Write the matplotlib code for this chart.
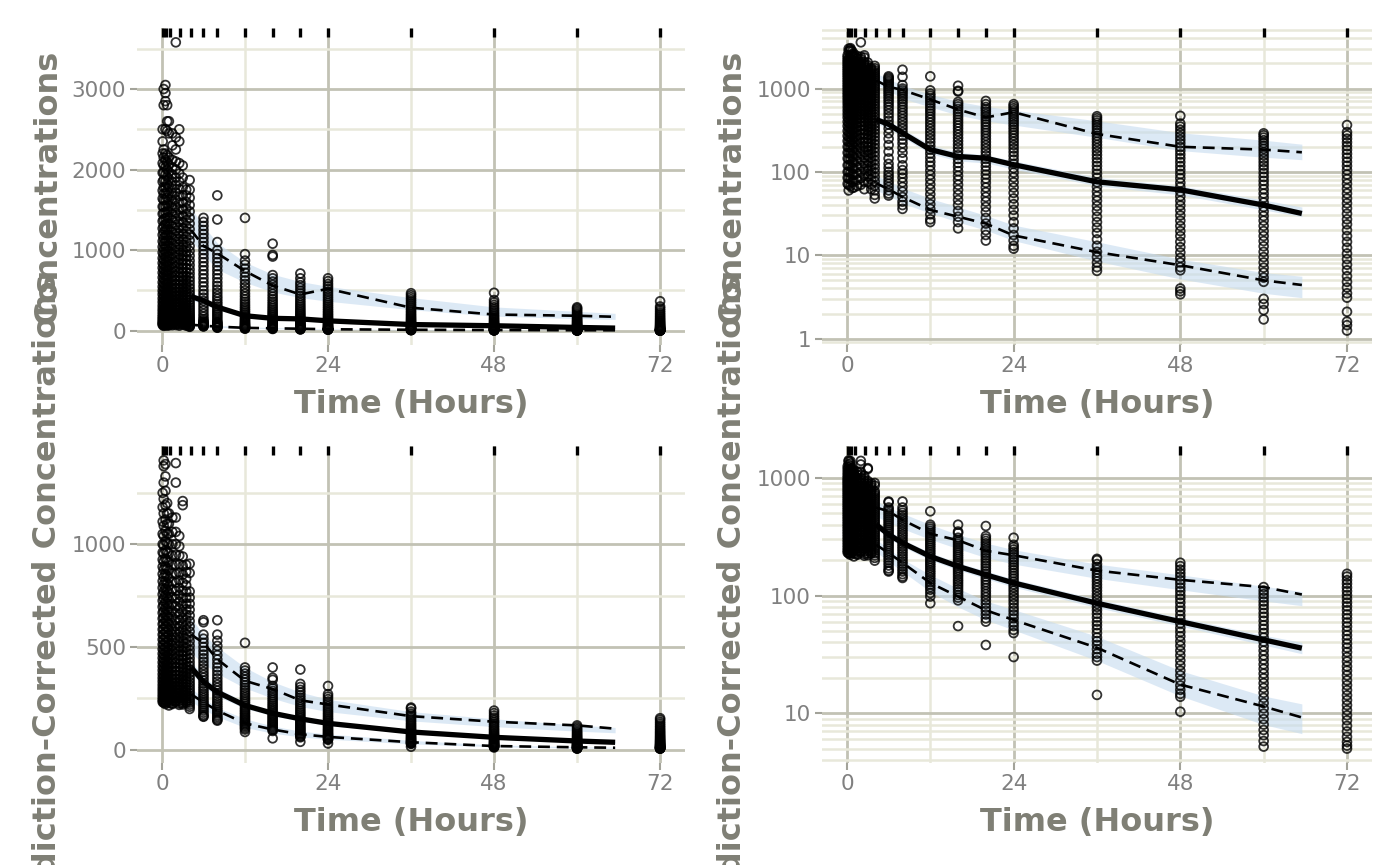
import matplotlib
matplotlib.use("Agg")
import matplotlib.pyplot as plt
from matplotlib.ticker import FixedLocator, FixedFormatter, LogLocator, NullFormatter
import numpy as np

# --- x axis / binning -------------------------------------------------------
time_ticks = [0, 24, 48, 72]
time_minor = [12, 36, 60]
rug_times = [0.2, 0.6, 1.1, 2.6, 4.2, 6, 8, 12, 16, 20, 24, 36, 48, 60, 72]
bin_mid = [4.2, 6, 8, 12, 16, 20, 24, 36, 48, 60, 65.5]

# --- observed concentrations (one list per sampling time) -------------------
obs_times = [0.1, 0.25, 0.5, 0.75, 1.0, 1.5, 2.0, 2.5, 3.0, 3.5,
             4, 6, 8, 12, 16, 20, 24, 36, 48, 60, 72]
obs_conc = [
    [2500, 2350, 2200, 2080, 1960, 1850, 1740, 1640, 1540, 1450, 1360, 1270, 1190, 1110, 1040, 970, 900, 840, 780, 720, 660, 600, 545, 495, 450, 400, 355, 310, 270, 235, 200, 170, 145, 120, 100, 85, 72],
    [3000, 2800, 2250, 2150, 2050, 1960, 1870, 1780, 1700, 1620, 1540, 1460, 1380, 1300, 1225, 1150, 1080, 1010, 945, 880, 815, 755, 695, 640, 585, 530, 480, 430, 385, 340, 300, 262, 228, 196, 168, 142, 120, 100, 84, 70, 60],
    [3050, 2950, 2850, 2500, 2200, 2120, 2030, 1940, 1860, 1780, 1700, 1620, 1545, 1470, 1395, 1320, 1250, 1180, 1110, 1045, 980, 915, 855, 795, 735, 680, 625, 570, 520, 470, 425, 380, 338, 298, 262, 228, 197, 168, 142, 118, 98, 82, 68],
    [2800, 2600, 2480, 2180, 2090, 2000, 1910, 1820, 1735, 1650, 1570, 1490, 1410, 1335, 1260, 1190, 1120, 1050, 985, 920, 860, 800, 742, 686, 632, 580, 530, 482, 436, 392, 350, 312, 276, 242, 210, 181, 155, 131, 110, 92, 76, 64],
    [2600, 2450, 2150, 2060, 1970, 1880, 1795, 1710, 1630, 1550, 1475, 1400, 1325, 1255, 1185, 1115, 1050, 985, 922, 862, 804, 748, 694, 642, 592, 544, 498, 454, 412, 372, 334, 298, 264, 232, 203, 176, 151, 129, 109, 92, 77, 65],
    [2450, 2300, 2120, 2030, 1940, 1850, 1765, 1680, 1600, 1520, 1445, 1370, 1295, 1225, 1155, 1088, 1022, 958, 896, 836, 778, 722, 668, 616, 566, 518, 472, 428, 386, 347, 310, 275, 242, 212, 184, 158, 135, 114, 96, 80, 68],
    [3580, 2400, 2250, 2100, 2000, 1900, 1805, 1715, 1628, 1545, 1465, 1388, 1313, 1240, 1170, 1102, 1036, 972, 910, 850, 792, 736, 682, 630, 580, 532, 486, 442, 400, 360, 322, 286, 252, 221, 192, 165, 141, 119, 100, 84, 70],
    [2500, 2350, 2080, 1950, 1850, 1760, 1672, 1588, 1506, 1428, 1352, 1278, 1207, 1138, 1072, 1008, 946, 886, 828, 772, 718, 666, 616, 568, 522, 478, 436, 396, 358, 322, 288, 256, 226, 198, 172, 148, 127, 108, 91, 76, 62],
    [2050, 1900, 1780, 1680, 1590, 1505, 1424, 1346, 1272, 1200, 1131, 1065, 1001, 940, 881, 825, 771, 719, 669, 621, 575, 531, 489, 449, 411, 375, 341, 309, 279, 251, 225, 200, 177, 156, 137, 119, 103, 88, 75],
    [1750, 1680, 1600, 1520, 1445, 1372, 1302, 1234, 1168, 1105, 1044, 985, 929, 875, 823, 773, 725, 679, 635, 593, 553, 515, 479, 444, 411, 380, 350, 322, 295, 270, 246, 224, 203, 183, 165, 148, 132, 117, 104, 92, 81, 71, 62],
    [1870, 1750, 1650, 1560, 1480, 1400, 1330, 1260, 1190, 1120, 1050, 990, 930, 870, 815, 760, 710, 660, 615, 570, 528, 488, 450, 414, 380, 348, 318, 290, 263, 238, 215, 193, 173, 155, 138, 123, 110, 98, 87, 77, 68, 60, 53, 48],
    [1400, 1350, 1300, 1250, 1200, 1150, 1100, 1050, 1000, 950, 900, 850, 800, 750, 700, 650, 600, 550, 500, 455, 410, 370, 330, 290, 250, 210, 175, 145, 125, 112, 100, 92, 85, 78, 72, 66, 60, 55, 52],
    [1680, 1380, 1100, 1000, 950, 900, 850, 800, 750, 700, 650, 600, 555, 510, 470, 430, 395, 360, 330, 300, 272, 245, 220, 195, 170, 145, 120, 105, 95, 85, 75, 66, 58, 50, 44, 40, 36],
    [1400, 950, 870, 820, 770, 720, 670, 625, 580, 540, 500, 460, 425, 390, 358, 328, 300, 274, 250, 227, 205, 185, 166, 148, 132, 118, 104, 92, 81, 71, 62, 54, 47, 41, 36, 31, 27, 25],
    [1080, 940, 920, 690, 650, 610, 570, 530, 492, 456, 422, 390, 360, 332, 305, 280, 256, 234, 213, 194, 176, 159, 143, 128, 115, 102, 90, 80, 70, 61, 53, 46, 40, 34, 29, 25, 21],
    [710, 650, 600, 565, 530, 495, 462, 430, 400, 371, 344, 318, 294, 271, 249, 228, 209, 191, 174, 158, 143, 129, 116, 104, 93, 83, 74, 65, 57, 50, 44, 38, 33, 28, 24, 20, 17.5, 15],
    [650, 615, 580, 548, 516, 485, 455, 426, 398, 371, 345, 320, 296, 273, 251, 230, 210, 191, 173, 156, 140, 125, 111, 98, 86, 75, 65, 56, 48, 41, 35, 30, 25, 21, 17.5, 15, 13, 12],
    [465, 440, 415, 390, 365, 340, 316, 293, 271, 250, 230, 211, 193, 176, 160, 145, 131, 118, 106, 95, 85, 75, 66, 58, 51, 45, 39, 34, 29, 25, 21.5, 18.5, 15.5, 13, 11, 9.5, 8.2, 7.2, 6.5],
    [470, 380, 350, 320, 292, 266, 242, 220, 199, 180, 162, 146, 131, 117, 105, 94, 84, 74, 66, 58, 51, 45, 39.5, 34.5, 30, 26, 22.5, 19.5, 17, 14.5, 12.5, 10.8, 9.3, 8.2, 7.2, 6.6, 4.0, 3.7, 3.4],
    [290, 275, 258, 240, 222, 205, 189, 173, 158, 144, 131, 119, 108, 97, 87, 78, 70, 62, 55, 49, 43, 38, 33.5, 29.5, 26, 22.5, 19.5, 17, 14.8, 12.8, 11, 9.5, 8.2, 7.1, 6.2, 5.4, 4.8, 3.0, 2.6, 2.2, 1.7],
    [365, 300, 275, 250, 226, 204, 184, 165, 148, 132, 118, 105, 93, 82, 72, 63, 55, 48, 42, 36.5, 31.5, 27, 23.5, 20, 17, 14.5, 12.3, 10.5, 9, 7.7, 6.6, 5.6, 4.8, 4.1, 3.5, 3.1, 2.1, 1.6, 1.45, 1.25],
]

# observed percentiles per bin
obs_p05 = [73, 62, 50, 35, 29, 24, 17.3, 10.9, 7.6, 5.0, 4.4]
obs_p50 = [425, 372, 293, 185, 153, 146, 122, 76, 61, 40, 31.7]
obs_p95 = [1250, 1050, 960, 740, 560, 450, 520, 285, 200, 185, 172]

# simulated confidence intervals per bin
sim_p05_lo = [60, 52, 42, 32, 25, 20, 15, 8.5, 5.2, 3.5, 3.1]
sim_p05_hi = [90, 78, 64, 48, 38, 30, 23, 14.5, 9.0, 6.2, 5.6]
sim_p50_lo = [380, 330, 260, 165, 135, 128, 108, 68, 53, 35, 29]
sim_p50_hi = [470, 410, 330, 210, 172, 160, 136, 86, 68, 46, 38]
sim_p95_lo = [1120, 940, 760, 600, 480, 410, 365, 260, 180, 150, 140]
sim_p95_hi = [1520, 1300, 1090, 850, 700, 610, 550, 410, 295, 240, 215]

# --- prediction-corrected concentrations ------------------------------------
pc_times = obs_times
pc_conc = [
    [1250, 1180, 1110, 1050, 1000, 960, 925, 890, 855, 820, 788, 756, 725, 695, 666, 638, 611, 585, 560, 536, 512, 489, 467, 446, 425, 405, 386, 367, 349, 332, 315, 299, 284, 269, 255, 242, 232],
    [1408, 1380, 1300, 1220, 1150, 1090, 1040, 995, 955, 915, 877, 840, 804, 770, 737, 705, 674, 644, 615, 587, 560, 534, 509, 485, 462, 440, 419, 398, 378, 359, 341, 323, 306, 290, 274, 259, 245, 233, 228],
    [1390, 1330, 1260, 1190, 1120, 1065, 1015, 970, 930, 892, 855, 819, 784, 751, 719, 688, 658, 629, 601, 574, 548, 523, 499, 476, 454, 432, 411, 391, 372, 353, 335, 318, 301, 285, 270, 256, 242, 230, 222],
    [1200, 1150, 1100, 1050, 1005, 962, 921, 882, 845, 809, 775, 742, 710, 680, 651, 623, 596, 570, 545, 521, 498, 476, 455, 434, 414, 395, 377, 359, 342, 326, 310, 295, 280, 266, 253, 241, 231],
    [1150, 1100, 1050, 1000, 955, 912, 872, 834, 798, 763, 730, 698, 668, 639, 611, 584, 558, 533, 509, 486, 464, 443, 422, 402, 383, 365, 347, 330, 314, 298, 283, 268, 254, 241, 228, 215],
    [1130, 1060, 1000, 945, 900, 858, 818, 780, 744, 710, 677, 646, 616, 587, 560, 534, 509, 485, 462, 440, 419, 399, 380, 361, 343, 326, 310, 294, 279, 265, 251, 238, 226, 222],
    [1395, 1300, 1130, 1060, 1000, 948, 900, 855, 813, 773, 735, 699, 665, 632, 601, 572, 544, 517, 492, 468, 445, 423, 402, 382, 363, 345, 328, 311, 295, 280, 266, 252, 239, 233],
    [1040, 990, 945, 902, 862, 824, 788, 753, 720, 688, 658, 629, 601, 575, 549, 525, 502, 479, 458, 437, 418, 399, 381, 364, 347, 331, 316, 301, 287, 274, 261, 249, 237, 226, 218],
    [1210, 1190, 940, 895, 852, 812, 774, 738, 704, 671, 640, 610, 582, 555, 529, 504, 480, 458, 436, 415, 395, 376, 358, 341, 324, 308, 293, 279, 265, 252, 240, 228, 220],
    [900, 865, 832, 800, 769, 739, 711, 683, 657, 631, 606, 583, 560, 538, 517, 496, 477, 458, 440, 422, 405, 389, 374, 359, 344, 330, 317, 304, 292, 280, 268, 257, 247, 237, 228],
    [905, 860, 770, 740, 710, 681, 653, 626, 600, 575, 551, 528, 506, 485, 465, 445, 426, 408, 391, 374, 358, 343, 328, 314, 300, 287, 274, 262, 251, 240, 229, 219, 209, 198],
    [630, 620, 560, 540, 520, 500, 481, 463, 445, 428, 411, 395, 379, 364, 350, 336, 322, 309, 297, 285, 273, 262, 251, 240, 230, 220, 210, 200, 190, 180, 170, 163, 160],
    [630, 560, 530, 505, 482, 460, 439, 419, 400, 382, 364, 347, 331, 316, 301, 287, 274, 261, 249, 237, 226, 215, 205, 195, 186, 177, 168, 160, 152, 145, 141],
    [520, 400, 385, 370, 355, 341, 327, 314, 301, 289, 277, 266, 255, 244, 234, 224, 214, 205, 196, 188, 180, 172, 164, 157, 150, 143, 136, 130, 124, 118, 112, 105, 98, 86],
    [400, 350, 340, 310, 298, 286, 275, 264, 253, 243, 233, 223, 214, 205, 196, 188, 180, 172, 165, 158, 151, 144, 137, 131, 125, 119, 113, 107, 101, 96, 91, 55],
    [390, 320, 305, 291, 278, 265, 253, 241, 230, 219, 208, 198, 188, 179, 170, 161, 153, 145, 137, 130, 123, 116, 109, 103, 97, 91, 85, 79, 74, 69, 64, 60, 38],
    [310, 270, 258, 246, 234, 223, 212, 202, 192, 182, 173, 164, 155, 147, 139, 131, 124, 117, 110, 103, 97, 91, 85, 79, 74, 69, 64, 59, 55, 51, 48, 30],
    [205, 200, 185, 175, 166, 157, 148, 140, 132, 124, 117, 110, 103, 97, 91, 85, 80, 75, 70, 65, 60, 56, 52, 48, 44, 41, 38, 35, 32, 30, 28, 14.3],
    [190, 178, 166, 155, 145, 135, 126, 117, 109, 101, 94, 87, 80, 74, 68, 63, 58, 53, 49, 45, 41, 37.5, 34, 31, 28, 25.5, 23, 21, 19, 17.2, 15.8, 14.6, 13.8, 10.3],
    [118, 110, 103, 96, 89, 83, 77, 71, 66, 61, 56, 52, 48, 44, 40.5, 37, 34, 31, 28.5, 26, 23.8, 21.7, 19.8, 18, 16.4, 14.9, 13.5, 12.2, 11, 9.9, 8.9, 8, 7.2, 6.5, 5.8, 5.2],
    [153, 145, 135, 126, 117, 109, 101, 94, 87, 81, 75, 69, 64, 59, 54.5, 50, 46, 42.5, 39, 36, 33, 30, 27.5, 25, 23, 21, 19, 17.3, 15.7, 14.2, 12.9, 11.7, 10.6, 9.6, 8.7, 7.8, 7, 6.3, 5.7, 5.3, 5.0],
]

pc_p05 = [270, 230, 190, 128, 98, 75, 62, 36, 17.5, 11.4, 9.2]
pc_p50 = [401, 330, 280, 215, 177, 150, 128, 86, 60, 42, 35.7]
pc_p95 = [560, 520, 440, 335, 295, 240, 220, 163, 136, 118, 102]

pc_sim_p05_lo = [235, 195, 160, 108, 80, 62, 51, 28, 14, 8, 6.7]
pc_sim_p05_hi = [300, 250, 205, 150, 115, 90, 76, 45, 23, 14, 12]
pc_sim_p50_lo = [375, 305, 260, 200, 165, 139, 118, 79, 55, 38, 32]
pc_sim_p50_hi = [430, 360, 300, 232, 190, 162, 138, 93, 65, 46, 40]
pc_sim_p95_lo = [470, 420, 370, 300, 250, 210, 185, 140, 112, 90, 82]
pc_sim_p95_hi = [640, 560, 500, 400, 330, 280, 245, 185, 150, 120, 108]

# --- style -----------------------------------------------------------------
GRID_MAJOR = "#c2c2b4"
GRID_MINOR = "#e8e8da"
TICK_COL = "#a3a39a"
LABEL_COL = "#808080"
TITLE_COL = "#7f7f75"
RIBBON_COL = "#c6dbef"


def ylims(values, log):
    v = np.array(values, dtype=float)
    if log:
        lv = np.log10(v)
        pad = 0.05 * (lv.max() - lv.min())
        return 10 ** (lv.min() - pad), 10 ** (lv.max() + pad)
    pad = 0.05 * (v.max() - v.min())
    return v.min() - pad, v.max() + pad


def draw_panel(ax, times, conc, pcts, ribbons, log, yticks, ylabel):
    for lo, hi in ribbons:
        ax.fill_between(bin_mid, lo, hi, color=RIBBON_COL, alpha=0.6, lw=0, zorder=2)

    for t, vals in zip(times, conc):
        ax.scatter([t] * len(vals), vals, s=40, facecolors="none",
                   edgecolors=(0, 0, 0, 0.8), linewidths=1.3, zorder=3)

    p05, p50, p95 = pcts
    ax.plot(bin_mid, p50, color="black", lw=3.8, solid_capstyle="butt", zorder=4)
    for p in (p05, p95):
        ax.plot(bin_mid, p, color="black", lw=1.9, dashes=(4.5, 2.6), zorder=4)

    ax.vlines(rug_times, 0.972, 1.0, transform=ax.get_xaxis_transform(),
              color="black", lw=2.4, zorder=5)

    allv = [v for col in conc for v in col] + [v for r in ribbons for side in r for v in side]
    ax.set_xlim(-3.6, 75.6)
    if log:
        ax.set_yscale("log")
        ax.yaxis.set_major_locator(FixedLocator(yticks))
        ax.yaxis.set_major_formatter(FixedFormatter([str(t) for t in yticks]))
        ax.yaxis.set_minor_locator(LogLocator(base=10, subs=np.arange(2, 10), numticks=50))
        ax.yaxis.set_minor_formatter(NullFormatter())
    else:
        step = yticks[1] - yticks[0]
        ax.set_yticks(yticks)
        ax.set_yticklabels([str(t) for t in yticks])
        ax.yaxis.set_minor_locator(FixedLocator([t + step / 2 for t in yticks]))
    ax.set_ylim(*ylims(allv, log))

    ax.set_xticks(time_ticks)
    ax.set_xticklabels([str(t) for t in time_ticks])
    ax.xaxis.set_minor_locator(FixedLocator(time_minor))

    for s in ax.spines.values():
        s.set_visible(False)
    ax.set_axisbelow(True)
    ax.grid(which="major", color=GRID_MAJOR, lw=2.0)
    ax.grid(which="minor", color=GRID_MINOR, lw=1.8)
    ax.tick_params(which="major", length=5, width=1.5, color=TICK_COL,
                   labelcolor=LABEL_COL, labelsize=15.5, pad=3)
    ax.tick_params(which="minor", length=0)

    ax.set_xlabel("Time (Hours)", fontsize=23, fontweight="bold", color=TITLE_COL)
    ax.xaxis.set_label_coords(0.5, -0.14)
    ax.set_ylabel(ylabel, fontsize=23, fontweight="bold", color=TITLE_COL)
    ax.yaxis.set_label_coords(-0.135, 0.5)


fig = plt.figure(figsize=(14, 8.65), dpi=100)
ax_tl = fig.add_axes([0.0979, 0.6012, 0.3914, 0.3665])
ax_tr = fig.add_axes([0.5871, 0.6012, 0.3929, 0.3665])
ax_bl = fig.add_axes([0.0979, 0.1179, 0.3914, 0.3665])
ax_br = fig.add_axes([0.5871, 0.1179, 0.3929, 0.3665])

obs_pcts = (obs_p05, obs_p50, obs_p95)
obs_ribs = [(sim_p05_lo, sim_p05_hi), (sim_p50_lo, sim_p50_hi), (sim_p95_lo, sim_p95_hi)]
pc_pcts = (pc_p05, pc_p50, pc_p95)
pc_ribs = [(pc_sim_p05_lo, pc_sim_p05_hi), (pc_sim_p50_lo, pc_sim_p50_hi),
           (pc_sim_p95_lo, pc_sim_p95_hi)]

draw_panel(ax_tl, obs_times, obs_conc, obs_pcts, obs_ribs, False,
           [0, 1000, 2000, 3000], "Concentrations")
draw_panel(ax_tr, obs_times, obs_conc, obs_pcts, obs_ribs, True,
           [1, 10, 100, 1000], "Concentrations")
draw_panel(ax_bl, pc_times, pc_conc, pc_pcts, pc_ribs, False,
           [0, 500, 1000], "Prediction-Corrected Concentrations")
draw_panel(ax_br, pc_times, pc_conc, pc_pcts, pc_ribs, True,
           [10, 100, 1000], "Prediction-Corrected Concentrations")

fig.savefig("out.png", dpi=100)
